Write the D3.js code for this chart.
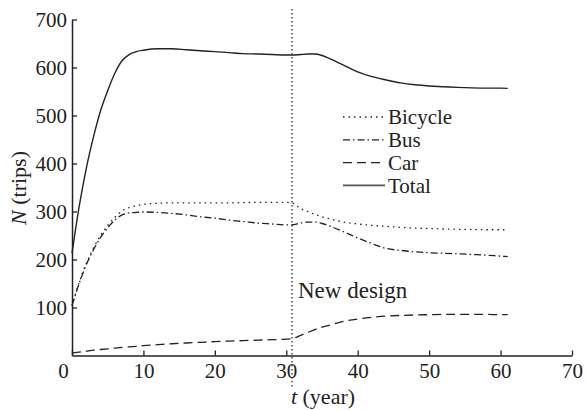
<!DOCTYPE html>
<html>
<head>
<meta charset="utf-8">
<script src="https://cdn.jsdelivr.net/npm/d3@7"></script>
</head>
<body style="margin:0">
<svg id="chart" width="587" height="410" font-family="Liberation Serif"></svg>
<script>
// ---- data ----
const years   = [0,1,2,3,4,5,6,7,8,9,10,12,14,16,18,20,22,24,26,28,30,30.8,32,33,34,35,36,38,40,42,44,46,48,50,52,54,56,58,60,61];
const bicycle = [104,152,192,224,250,271,288,301,308,312,315,317,318,318,318,318,318,318.5,319,319,319,318,306,300,294,289,285,278,274,271,269,267,265.5,264.5,263.5,263,262.5,262,262,262];
const bus     = [104,150,189,220,246,266,282,293,297,298,299,298,296,293,289,286,282,279,276,274,272,272,276,278,278,275,270,258,245,233,223,219,216,214,213,212,210.5,209,207,206];
const car     = [5,7,9,11,12.5,14,15.5,17,18,19.2,20.5,22.5,24.5,26,27.5,29,30,31,32,33,34,35,42,48,54,59,63,71,76,79.5,82,83.5,84.5,85,85.5,85.5,85.5,85.5,85,85];
const total   = [213,310,390,455,510,552,588,614,627,633,636,639,639,637,635,633,631,629,628,627,626,626,627,628,628,625,619,605,591,581,574,568,564,561.5,560,558.5,557.5,557,557,556.5];
const seriesNames = ["Bicycle","Bus","Car","Total"];
const xTicks = [0,10,20,30,40,50,60,70];
const yTicks = [100,200,300,400,500,600,700];
const designYear = 30.8;
const designTop = 722;
const designBottom = -69;
const designLabel = "New design";

// ---- styles ----
const FONT = "Liberation Serif";
const dashes = { Bicycle: "1.5,4", Bus: "7,3,1.5,3", Car: "9,5", Total: null };
const ink = "#222";

const svg = d3.select("#chart");
const x = d3.scaleLinear().domain([0,70]).range([72,572]);
const y = d3.scaleLinear().domain([0,700]).range([355.5,19.5]);

const seriesData = { Bicycle: bicycle, Bus: bus, Car: car, Total: total };

function txt(sel, size) {
  return sel.attr("font-family", FONT).style("font-family", `"${FONT}"`)
    .attr("font-size", size).attr("fill", ink);
}

// axes
const xAxis = svg.append("g").attr("transform", `translate(0,${y(0)})`)
  .call(d3.axisBottom(x).tickValues(xTicks).tickSizeInner(-5).tickSizeOuter(0).tickPadding(8));
const yAxis = svg.append("g").attr("transform", `translate(${x(0)},0)`)
  .call(d3.axisLeft(y).tickValues(yTicks).tickSizeInner(-5).tickSizeOuter(0).tickPadding(5));
[xAxis, yAxis].forEach(g => {
  g.attr("font-family", FONT).attr("font-size", 21);
  g.select(".domain").attr("stroke", ink).attr("stroke-width", 1.5);
  g.selectAll(".tick line").attr("stroke", ink).attr("stroke-width", 1.3);
  txt(g.selectAll(".tick text"), 21);
});
// the "0" label sits a little left of its tick, clear of the y axis
xAxis.selectAll(".tick text").filter(d => d === 0).attr("dx", -9);

// design line
svg.append("line")
  .attr("x1", x(designYear)).attr("x2", x(designYear))
  .attr("y1", y(designTop)).attr("y2", y(designBottom))
  .attr("stroke", ink).attr("stroke-width", 1.2).attr("stroke-dasharray", "1.5,2.5");
txt(svg.append("text"), 23).attr("x", x(designYear) + 6).attr("y", y(120) + 0.2).text(designLabel);

// series lines
const line = d3.line().x((d,i) => x(years[i])).y(d => y(d)).curve(d3.curveMonotoneX);
seriesNames.forEach(name => {
  svg.append("path").datum(seriesData[name])
    .attr("d", line)
    .attr("fill", "none")
    .attr("stroke", ink)
    .attr("stroke-width", name === "Total" ? 1.4 : 1.3)
    .attr("stroke-dasharray", dashes[name]);
});

// legend
const lg = svg.append("g").attr("transform", "translate(343,117)");
seriesNames.forEach((name, i) => {
  const row = lg.append("g").attr("transform", `translate(0,${i*22.8})`);
  row.append("line").attr("x1", 0).attr("x2", 42).attr("y1", 0).attr("y2", 0)
    .attr("stroke", name === "Total" ? "#555" : ink).attr("stroke-width", name === "Total" ? 1.6 : 1.3)
    .attr("stroke-dasharray", dashes[name]);
  txt(row.append("text"), 21).attr("x", 45).attr("dy", "0.35em").text(name);
});

// axis titles
const xt = txt(svg.append("text"), 22).attr("x", 323).attr("y", 404).attr("text-anchor", "middle");
xt.append("tspan").attr("font-style", "italic").text("t");
xt.append("tspan").text(" (year)");
const yt = txt(svg.append("text"), 22).attr("transform", "translate(26,188) rotate(-90)").attr("text-anchor", "middle");
yt.append("tspan").attr("font-style", "italic").text("N");
yt.append("tspan").text(" (trips)");
</script>
</body>
</html>
